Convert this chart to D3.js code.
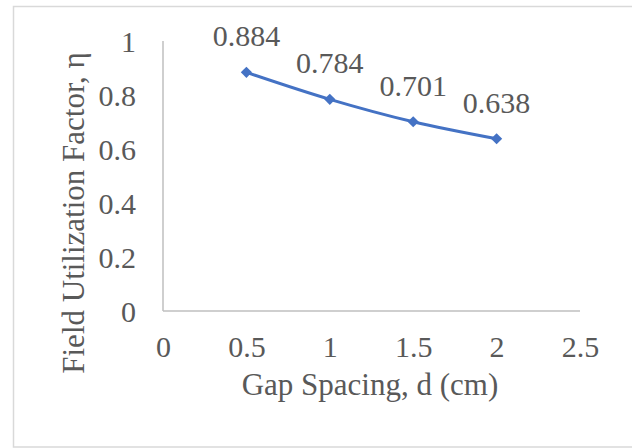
<!DOCTYPE html>
<html><head><meta charset="utf-8">
<script src="https://cdn.jsdelivr.net/npm/d3@7"></script>
<style>body{margin:0;background:#fff;}svg{display:block;}text{font-family:"Liberation Serif","Times New Roman",serif;fill:#595959;}</style>
</head><body><svg id="c" width="632" height="448"></svg>
<script>
const gapSpacing = [0.5, 1, 1.5, 2];
const eta = [0.884, 0.784, 0.701, 0.638];
const etaLabels = ["0.884", "0.784", "0.701", "0.638"];
const xTicks = [0, 0.5, 1, 1.5, 2, 2.5];
const yTicks = [0, 0.2, 0.4, 0.6, 0.8, 1];
const xTitle = "Gap Spacing, d (cm)";
const yTitle = "Field Utilization Factor, η";

const svg = d3.select("#c");
svg.append("rect").attr("x",13.5).attr("y",6.5).attr("width",640).attr("height",440.5)
  .attr("fill","#fff").attr("stroke","#d9d9d9").attr("stroke-width",1.5);

const L=163, R=580, T=41, B=311;
const x = d3.scaleLinear().domain([0,2.5]).range([L,R]);
const y = d3.scaleLinear().domain([0,1]).range([B,T]);

const fs = 30;
const xAxis = d3.axisBottom(x).tickValues(xTicks).tickSize(0).tickPadding(0).tickFormat(d3.format("~g"));
const gx = svg.append("g").attr("transform",`translate(0,${B})`).call(xAxis);
gx.attr("font-family",null).attr("font-size",null);
gx.select(".domain").attr("stroke","#bfbfbf").attr("stroke-width",1.5).attr("d",`M${L},0H${R}`);
gx.selectAll("text").attr("font-size",fs).attr("dy",null).attr("y",46).attr("fill","#595959");

const yAxis = d3.axisLeft(y).tickValues(yTicks).tickSize(0).tickPadding(0).tickFormat(d3.format("~g"));
const gy = svg.append("g").attr("transform",`translate(${L},0)`).call(yAxis);
gy.attr("font-family",null).attr("font-size",null);
gy.select(".domain").attr("stroke","#bfbfbf").attr("stroke-width",1.5).attr("d",`M0,${T}V${B}`);
gy.selectAll("text").attr("font-size",fs).attr("x",-27).attr("dy","0.34em").attr("fill","#595959");

const line = d3.line().x((d,i)=>x(gapSpacing[i])).y(d=>y(d)).curve(d3.curveMonotoneX);
svg.append("path").datum(eta).attr("d",line).attr("fill","none").attr("stroke","#4472c4").attr("stroke-width",3);

svg.selectAll(".mk").data(eta).enter().append("path").attr("class","mk")
  .attr("d",d3.symbol().type(d3.symbolDiamond2).size(80))
  .attr("transform",(d,i)=>`translate(${x(gapSpacing[i])},${y(d)})`)
  .attr("fill","#4472c4");

svg.selectAll(".lbl").data(eta).enter().append("text").attr("class","lbl")
  .attr("x",(d,i)=>x(gapSpacing[i])).attr("y",d=>y(d)-26)
  .attr("text-anchor","middle").attr("font-size",fs).text((d,i)=>etaLabels[i]);

svg.append("text").attr("x",370).attr("y",395).attr("text-anchor","middle").attr("font-size",31).text(xTitle);
svg.append("text").attr("transform","translate(84,213) rotate(-90)").attr("text-anchor","middle").attr("font-size",31).text(yTitle);
</script></body></html>
